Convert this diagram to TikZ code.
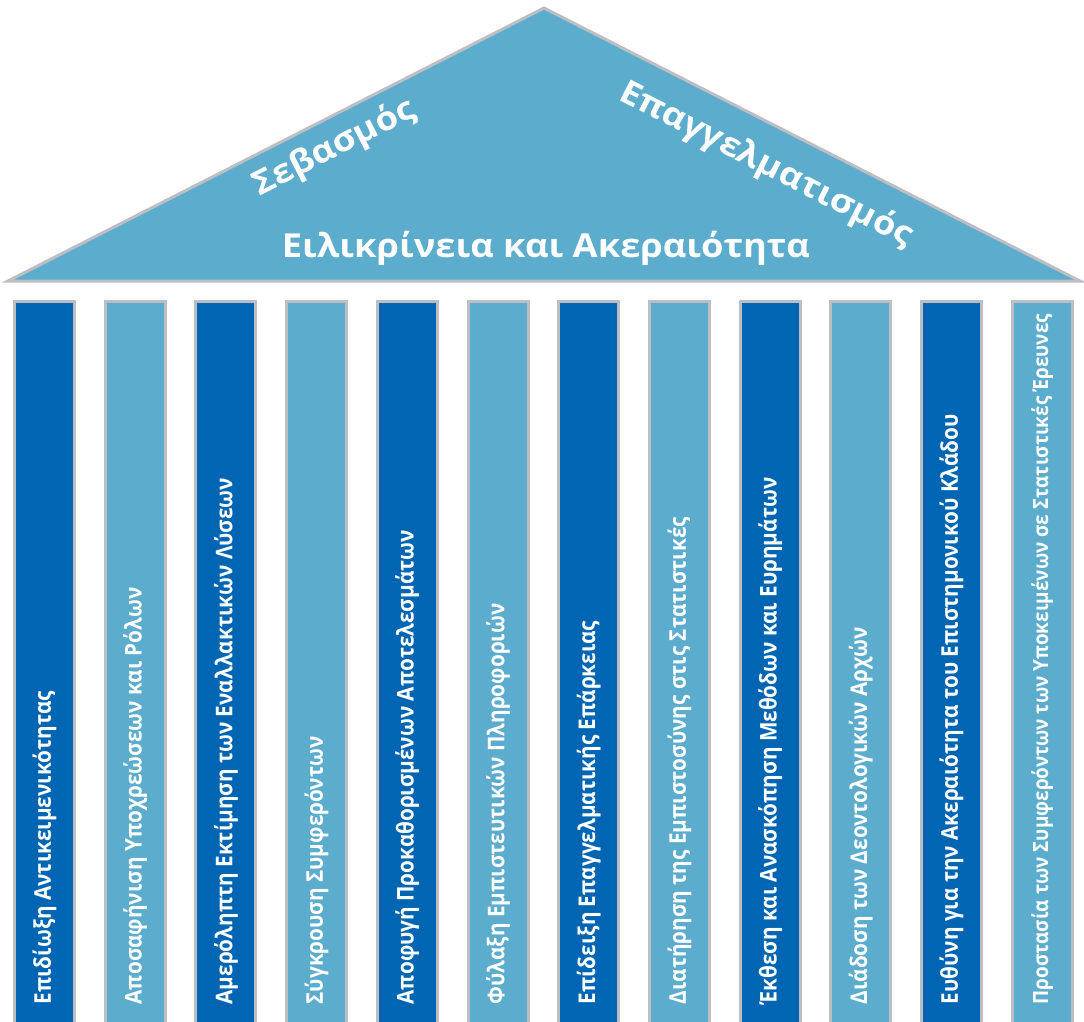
\documentclass[tikz,border=0pt]{standalone}
\usepackage{fontspec}
\setmainfont{Open Sans}
\newfontfamily\pillarfont{Open Sans}[FakeStretch=0.9]
\newfontfamily\rooffont{Open Sans}[FakeStretch=1.1]
\usepackage{tikz}

\definecolor{roofblue}{HTML}{5BACCD}
\definecolor{deepblue}{HTML}{0066B3}
\definecolor{rimgray}{HTML}{BCBEC4}

\begin{document}
\begin{tikzpicture}[x=1pt,y=-1pt]

\tikzset{pillar/.style={draw=rimgray, line width=3pt, minimum width=60pt, minimum height=738.5pt, inner sep=0pt},
%dark and light columns take turns
darkpillar/.style={pillar, fill=deepblue},
lightpillar/.style={pillar, fill=roofblue},
pillartext/.style={rotate=90, anchor=west, inner sep=0pt, text=white, font=\pillarfont\bfseries\fontsize{23}{27}\selectfont},
roofword/.style={text=white, font=\rooffont\bfseries\fontsize{33}{39}\selectfont}}

\newcommand{\pillarstep}{90.7}
\newcommand{\pillarfirst}{44.5}
\newcommand{\pillarmid}{670.75}
\newcommand{\textlift}{37pt}
\newcommand{\roofslope}{27}

\useasboundingbox (0,0) rectangle (1084,1021);

% roof
\draw [rimgray,line width=3pt,fill=roofblue] (8,281) -- (544,8) -- (1080,281) -- cycle;

\node [roofword,rotate=\roofslope] (respect) at (334,148) {Σεβασμός};
\node [roofword,rotate=-\roofslope] (profession) at (766,165) {Επαγγελματισμός};
\node [roofword] (integrity) at (546,248) {Ειλικρίνεια και Ακεραιότητα};

% columns
\node [darkpillar] (p1) at (\pillarfirst+0*\pillarstep,\pillarmid) {};
\node [lightpillar] (p2) at (\pillarfirst+1*\pillarstep,\pillarmid) {};
\node [darkpillar] (p3) at (\pillarfirst+2*\pillarstep,\pillarmid) {};
\node [lightpillar] (p4) at (\pillarfirst+3*\pillarstep,\pillarmid) {};
\node [darkpillar] (p5) at (\pillarfirst+4*\pillarstep,\pillarmid) {};
\node [lightpillar] (p6) at (\pillarfirst+5*\pillarstep,\pillarmid) {};
\node [darkpillar] (p7) at (\pillarfirst+6*\pillarstep,\pillarmid) {};
\node [lightpillar] (p8) at (\pillarfirst+7*\pillarstep,\pillarmid) {};
\node [darkpillar] (p9) at (\pillarfirst+8*\pillarstep,\pillarmid) {};
\node [lightpillar] (p10) at (\pillarfirst+9*\pillarstep,\pillarmid) {};
\node [darkpillar] (p11) at (\pillarfirst+10*\pillarstep,\pillarmid) {};
\node [lightpillar] (p12) at (\pillarfirst+11*\pillarstep,\pillarmid) {};

% column texts, read from the bottom up
\node [pillartext] (t1) at ([yshift=\textlift]p1.south) {Επιδίωξη Αντικειμενικότητας};
\node [pillartext] (t2) at ([yshift=\textlift]p2.south) {Αποσαφήνιση Υποχρεώσεων και Ρόλων};
\node [pillartext] (t3) at ([yshift=\textlift]p3.south) {Αμερόληπτη Εκτίμηση των Εναλλακτικών Λύσεων};
\node [pillartext] (t4) at ([yshift=\textlift]p4.south) {Σύγκρουση Συμφερόντων};
\node [pillartext] (t5) at ([yshift=\textlift]p5.south) {Αποφυγή Προκαθορισμένων Αποτελεσμάτων};
\node [pillartext] (t6) at ([yshift=\textlift]p6.south) {Φύλαξη Εμπιστευτικών Πληροφοριών};
\node [pillartext] (t7) at ([yshift=\textlift]p7.south) {Επίδειξη Επαγγελματικής Επάρκειας};
\node [pillartext] (t8) at ([yshift=\textlift]p8.south) {Διατήρηση της Εμπιστοσύνης στις Στατιστικές};
\node [pillartext] (t9) at ([yshift=\textlift]p9.south) {Έκθεση και Ανασκόπηση Μεθόδων και Ευρημάτων};
\node [pillartext] (t10) at ([yshift=\textlift]p10.south) {Διάδοση των Δεοντολογικών Αρχών};
\node [pillartext] (t11) at ([yshift=\textlift]p11.south) {Ευθύνη για την Ακεραιότητα του Επιστημονικού Κλάδου};
% longest one, set a bit smaller so it stays inside
\node [pillartext,font=\pillarfont\bfseries\fontsize{21}{25}\selectfont] (t12) at ([yshift=\textlift]p12.south) {Προστασία των Συμφερόντων των Υποκειμένων σε Στατιστικές Έρευνες};

\end{tikzpicture}
\end{document}
